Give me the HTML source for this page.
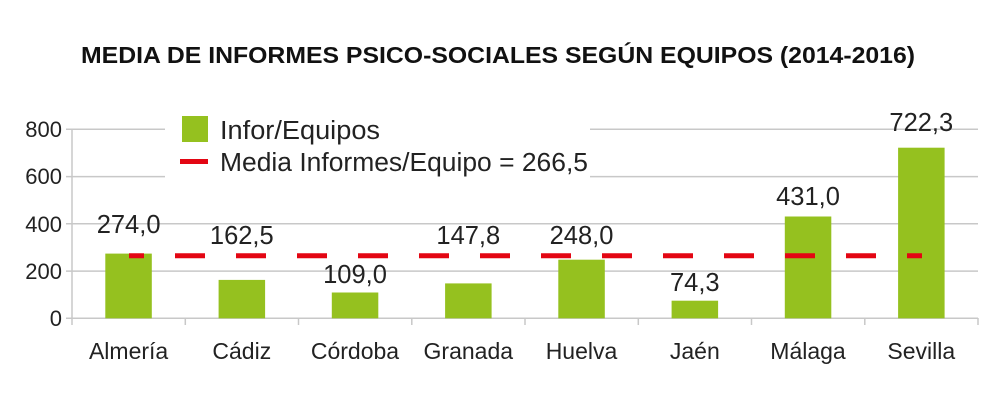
<!DOCTYPE html>
<html><head><meta charset="utf-8"><style>body{margin:0;background:#fff}</style></head><body>
<svg width="1000" height="402" xmlns="http://www.w3.org/2000/svg" font-family="'Liberation Sans', sans-serif">
<rect width="1000" height="402" fill="#fff"/>
<text x="498" y="63" text-anchor="middle" font-size="23" font-weight="bold" fill="#111" textLength="834" lengthAdjust="spacingAndGlyphs">MEDIA DE INFORMES PSICO-SOCIALES SEGÚN EQUIPOS (2014-2016)</text>
<g stroke="#c8c8c8" stroke-width="1.5">
<line x1="66" y1="129.3" x2="978" y2="129.3"/>
<line x1="66" y1="176.6" x2="978" y2="176.6"/>
<line x1="66" y1="223.8" x2="978" y2="223.8"/>
<line x1="66" y1="271.1" x2="978" y2="271.1"/>
<line x1="66" y1="318.3" x2="978" y2="318.3"/>
<line x1="72" y1="129" x2="72" y2="325"/>
<line x1="185.3" y1="318" x2="185.3" y2="325"/><line x1="298.5" y1="318" x2="298.5" y2="325"/>
<line x1="411.8" y1="318" x2="411.8" y2="325"/><line x1="525" y1="318" x2="525" y2="325"/>
<line x1="638.3" y1="318" x2="638.3" y2="325"/><line x1="751.5" y1="318" x2="751.5" y2="325"/>
<line x1="864.8" y1="318" x2="864.8" y2="325"/><line x1="978" y1="318" x2="978" y2="325"/>
</g>
<g font-size="22" fill="#222" text-anchor="end">
<text x="62" y="137">800</text><text x="62" y="184">600</text><text x="62" y="232">400</text><text x="62" y="279">200</text><text x="62" y="326">0</text>
</g>
<g fill="#95c11f">
<rect x="105.3" y="253.6" width="46.5" height="64.7"/>
<rect x="218.6" y="279.9" width="46.5" height="38.4"/>
<rect x="331.8" y="292.5" width="46.5" height="25.8"/>
<rect x="445.1" y="283.4" width="46.5" height="34.9"/>
<rect x="558.3" y="259.7" width="46.5" height="58.6"/>
<rect x="671.6" y="300.7" width="46.5" height="17.6"/>
<rect x="784.8" y="216.5" width="46.5" height="101.8"/>
<rect x="898.1" y="147.7" width="46.5" height="170.6"/>
</g>
<line x1="129" y1="255.7" x2="923" y2="255.7" stroke="#e30613" stroke-width="5" stroke-dasharray="15 31 30 31 30 31 30 31 30 31 30 31 30 31 30 31 30 31 30 31 30 31 30 31 30 31"/>
<g font-size="25.5" fill="#222" text-anchor="middle">
<text x="128.6" y="233">274,0</text><text x="241.8" y="244">162,5</text><text x="355" y="283">109,0</text>
<text x="468.3" y="244">147,8</text><text x="581.5" y="244">248,0</text><text x="694.8" y="291">74,3</text>
<text x="808" y="205">431,0</text><text x="921.3" y="131">722,3</text>
</g>
<g font-size="23" fill="#222" text-anchor="middle">
<text x="128.6" y="359">Almería</text><text x="241.8" y="359">Cádiz</text><text x="355" y="359">Córdoba</text>
<text x="468.3" y="359">Granada</text><text x="581.5" y="359">Huelva</text><text x="694.8" y="359">Jaén</text>
<text x="808" y="359">Málaga</text><text x="921.3" y="359">Sevilla</text>
</g>
<rect x="165" y="108" width="425" height="78" fill="#fff"/>
<rect x="182" y="116" width="26" height="26" fill="#95c11f"/>
<line x1="180" y1="161.5" x2="208" y2="161.5" stroke="#e30613" stroke-width="5"/>
<g font-size="25.5" fill="#222">
<text x="220" y="139" textLength="160" lengthAdjust="spacingAndGlyphs">Infor/Equipos</text>
<text x="220" y="171" textLength="368" lengthAdjust="spacingAndGlyphs">Media Informes/Equipo = 266,5</text>
</g>
</svg>
</body></html>
